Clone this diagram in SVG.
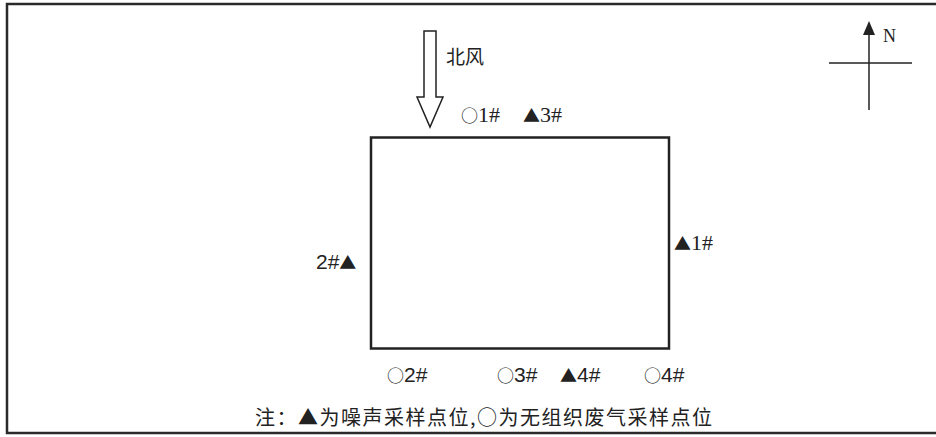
<svg xmlns="http://www.w3.org/2000/svg" width="936" height="437" viewBox="0 0 936 437">
<style>
.cjk{font-family:"Noto Sans CJK SC",sans-serif;fill:#222}
.sans{font-family:"Liberation Sans","Noto Sans CJK SC",sans-serif;fill:#222}
.serif{font-family:"Liberation Serif","Noto Sans CJK SC",serif;fill:#222}
.sym{font-family:"Noto Sans CJK SC",sans-serif;font-size:17px}
.line{stroke:#222;fill:none}
</style>
<rect x="0" y="0" width="936" height="437" fill="#fff"/>
<rect id="frame" x="7" y="4" width="940" height="429" fill="none" stroke="#2a2a2a" stroke-width="2.5"/>
<g id="site">
<rect x="371" y="137.5" width="298" height="211" fill="none" stroke="#222" stroke-width="2.5"/>
</g>
<g id="wind">
<polygon points="424,31 436,31 436,97 443,97 430,127 417,97 424,97" fill="#fff" stroke="#222" stroke-width="1.5"/>
<text x="446" y="64" class="cjk" font-size="19">北风</text>
</g>
<g id="compass">
<line x1="869" y1="30" x2="869" y2="110" class="line" stroke-width="1.5"/>
<line x1="829" y1="63" x2="912" y2="63" class="line" stroke-width="1.5"/>
<polygon points="869,21 875,35 863,35" fill="#222"/>
<text x="883" y="42" class="serif" font-size="18">N</text>
</g>
<g id="labels">
<text x="461" y="122" class="serif" font-size="22"><tspan class="sym">○</tspan>1#</text>
<text x="523" y="122" class="serif" font-size="22"><tspan class="sym">▲</tspan>3#</text>
<text x="316" y="269" class="sans" font-size="21">2#<tspan class="sym">▲</tspan></text>
<text x="674" y="250" class="serif" font-size="22"><tspan class="sym">▲</tspan>1#</text>
<text x="387" y="382" class="sans" font-size="21"><tspan class="sym">○</tspan>2#</text>
<text x="497" y="382" class="sans" font-size="21"><tspan class="sym">○</tspan>3#</text>
<text x="560" y="382" class="sans" font-size="21"><tspan class="sym">▲</tspan>4#</text>
<text x="644" y="382" class="sans" font-size="21"><tspan class="sym">○</tspan>4#</text>
</g>
<g id="note">
<text x="255" y="425" class="cjk" font-size="20" textLength="457" lengthAdjust="spacing">注：▲为噪声采样点位,○为无组织废气采样点位</text>
</g>
</svg>
